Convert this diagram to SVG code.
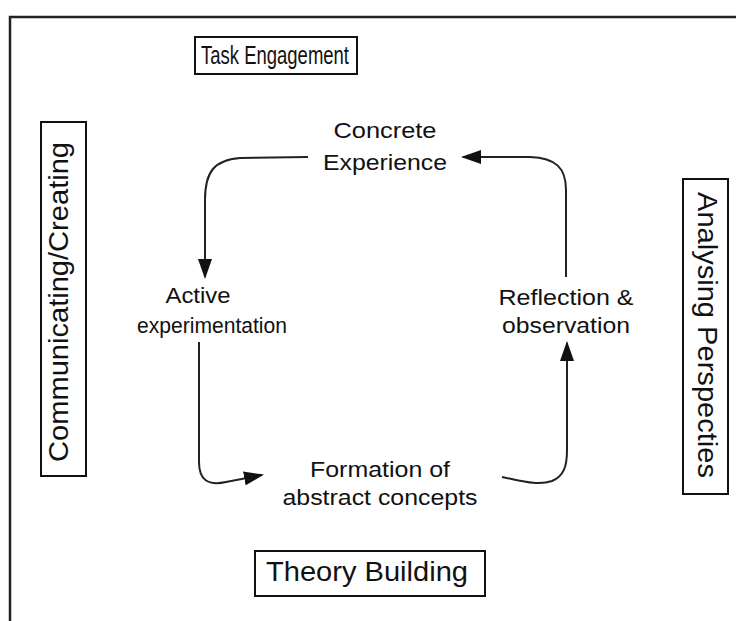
<svg xmlns="http://www.w3.org/2000/svg" width="736" height="621" viewBox="0 0 736 621">
  <style>
    .lbl { font-family: "Liberation Sans", Arial, sans-serif; fill: #111; text-anchor: middle; }
    .box { fill: #fff; stroke: #111; stroke-width: 2; }
    .conn { fill: none; stroke: #222; stroke-width: 2; }
    .frame { fill: none; stroke: #222; stroke-width: 2.5; }
  </style>
  <defs>
    <marker id="arr" viewBox="0 0 20 14" refX="18" refY="7" markerWidth="20" markerHeight="14" markerUnits="userSpaceOnUse" orient="auto">
      <path d="M0,0 L20,7 L0,14 z" fill="#111"/>
    </marker>
  </defs>
  <rect width="736" height="621" fill="#fff"/>
  <path class="frame" d="M10,621 L10,17 L736,17"/>

  <g id="task-engagement">
    <rect class="box" x="195" y="37" width="162" height="37"/>
    <text class="lbl" x="275" y="64" font-size="26" textLength="148" lengthAdjust="spacingAndGlyphs">Task Engagement</text>
  </g>
  <g id="communicating-creating">
    <rect class="box" x="41" y="122" width="45" height="354"/>
    <text class="lbl" transform="translate(68,302) rotate(-90)" font-size="28" textLength="320" lengthAdjust="spacingAndGlyphs">Communicating/Creating</text>
  </g>
  <g id="analysing-perspecties">
    <rect class="box" x="683" y="179" width="45" height="315"/>
    <text class="lbl" transform="translate(698,335) rotate(90)" font-size="28" textLength="286" lengthAdjust="spacingAndGlyphs">Analysing Perspecties</text>
  </g>
  <g id="theory-building">
    <rect class="box" x="255" y="551" width="230" height="45"/>
    <text class="lbl" x="367" y="581" font-size="28" textLength="202" lengthAdjust="spacingAndGlyphs">Theory Building</text>
  </g>

  <g id="concrete-experience">
    <text class="lbl" x="385" y="138" font-size="22" textLength="103" lengthAdjust="spacingAndGlyphs">Concrete</text>
    <text class="lbl" x="385" y="170" font-size="22" textLength="124" lengthAdjust="spacingAndGlyphs">Experience</text>
  </g>
  <g id="active-experimentation">
    <text class="lbl" x="198" y="303" font-size="22" textLength="65" lengthAdjust="spacingAndGlyphs">Active</text>
    <text class="lbl" x="212" y="333" font-size="22" textLength="150" lengthAdjust="spacingAndGlyphs">experimentation</text>
  </g>
  <g id="reflection-observation">
    <text class="lbl" x="566" y="305" font-size="22" textLength="135" lengthAdjust="spacingAndGlyphs">Reflection &amp;</text>
    <text class="lbl" x="566" y="333" font-size="22" textLength="128" lengthAdjust="spacingAndGlyphs">observation</text>
  </g>
  <g id="formation-abstract">
    <text class="lbl" x="380" y="477" font-size="22" textLength="140" lengthAdjust="spacingAndGlyphs">Formation of</text>
    <text class="lbl" x="380" y="505" font-size="22" textLength="195" lengthAdjust="spacingAndGlyphs">abstract concepts</text>
  </g>

  <g id="connectors">
    <path class="conn" marker-end="url(#arr)" d="M308,157 L240,158 C214,160 205,172 205,200 L205,277"/>
    <path class="conn" marker-end="url(#arr)" d="M566,277 L566,190 C566,168 556,158 530,157 L463,157"/>
    <path class="conn" marker-end="url(#arr)" d="M199,342 L199,462 C199,480 208,486 226,482 L262,475"/>
    <path class="conn" marker-end="url(#arr)" d="M502,477 C522,481 538,486 552,481 C564,476 567,466 567,450 L567,343"/>
  </g>
</svg>
